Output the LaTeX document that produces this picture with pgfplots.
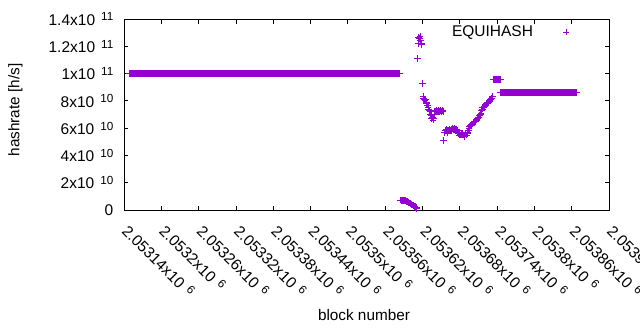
\documentclass[border=0pt]{standalone}
\usepackage{fontspec}
\setmainfont{Liberation Sans}
\usepackage{pgfplots}
\pgfplotsset{compat=1.18}
\definecolor{gpviolet}{RGB}{148,0,211}
\newcommand{\E}[2]{#1x10\hspace{6pt}\raisebox{4.3pt}{\fontsize{11.7}{12}\selectfont #2}}
\begin{document}
\fontsize{15}{18}\selectfont
\begin{tikzpicture}
\begin{axis}[
  scale only axis, width=485pt, height=191pt,
  xmin=2053140, xmax=2053920, ymin=0, ymax=1.4e11,
  axis line style={line width=0.8pt},
  tick style={black, line width=0.8pt}, major tick length=4.5pt, tick align=inside,
  xtick pos=both, ytick pos=both,
  scaled x ticks=false, scaled y ticks=false,
  xtick={2053140,2053200,2053260,2053320,2053380,2053440,2053500,2053560,2053620,2053680,2053740,2053800,2053860,2053920},
  xticklabels={\E{2.05314}{6},\E{2.0532}{6},\E{2.05326}{6},\E{2.05332}{6},\E{2.05338}{6},\E{2.05344}{6},\E{2.0535}{6},\E{2.05356}{6},\E{2.05362}{6},\E{2.05368}{6},\E{2.05374}{6},\E{2.0538}{6},\E{2.05386}{6},\E{2.05392}{6}},
  ytick={0,2e10,4e10,6e10,8e10,1e11,1.2e11,1.4e11},
  yticklabels={0,\E{2}{10},\E{4}{10},\E{6}{10},\E{8}{10},\E{1}{11},\E{1.2}{11},\E{1.4}{11}},
  tick label style={font=\fontsize{15.5}{18}\selectfont},
  xticklabel style={xshift=6pt, yshift=-6pt, rotate=-45, anchor=north west},
  yticklabel style={xshift=-5.5pt},
  xlabel={block number}, ylabel={hashrate [h/s]},
  xlabel style={at={(axis description cs:0.4948,-0.552)}, anchor=center, font=\fontsize{15.3}{18}\selectfont},
  ylabel style={at={(axis description cs:-0.2237,0.5236)}, anchor=center, font=\fontsize{15.3}{18}\selectfont},
  legend plot pos=right,
  legend style={draw=none, fill=none, at={(axis description cs:0.9258,0.9319)}, anchor=east, inner sep=0pt, outer sep=0pt, nodes={inner sep=0pt, outer sep=0pt}, column sep=0pt, font=\fontsize{15.5}{18}\selectfont},
  legend image code/.code={\path[draw=none, fill=none] (0pt,-3pt) rectangle (40pt,3pt); \draw[#1] plot coordinates {(33pt,0pt)};},
]
\addplot[only marks, mark=+, mark size=3.4pt, color=gpviolet, mark options={line width=0.9pt}] coordinates {
(2053148,1e11)(2053149,1e11)
(2053150,1e11)(2053151,1e11)(2053152,1e11)(2053153,1e11)(2053154,1e11)(2053155,1e11)(2053156,1e11)(2053157,1e11)(2053158,1e11)(2053159,1e11)
(2053160,1e11)(2053161,1e11)(2053162,1e11)(2053163,1e11)(2053164,1e11)(2053165,1e11)(2053166,1e11)(2053167,1e11)(2053168,1e11)(2053169,1e11)
(2053170,1e11)(2053171,1e11)(2053172,1e11)(2053173,1e11)(2053174,1e11)(2053175,1e11)(2053176,1e11)(2053177,1e11)(2053178,1e11)(2053179,1e11)
(2053180,1e11)(2053181,1e11)(2053182,1e11)(2053183,1e11)(2053184,1e11)(2053185,1e11)(2053186,1e11)(2053187,1e11)(2053188,1e11)(2053189,1e11)
(2053190,1e11)(2053191,1e11)(2053192,1e11)(2053193,1e11)(2053194,1e11)(2053195,1e11)(2053196,1e11)(2053197,1e11)(2053198,1e11)(2053199,1e11)
(2053200,1e11)(2053201,1e11)(2053202,1e11)(2053203,1e11)(2053204,1e11)(2053205,1e11)(2053206,1e11)(2053207,1e11)(2053208,1e11)(2053209,1e11)
(2053210,1e11)(2053211,1e11)(2053212,1e11)(2053213,1e11)(2053214,1e11)(2053215,1e11)(2053216,1e11)(2053217,1e11)(2053218,1e11)(2053219,1e11)
(2053220,1e11)(2053221,1e11)(2053222,1e11)(2053223,1e11)(2053224,1e11)(2053225,1e11)(2053226,1e11)(2053227,1e11)(2053228,1e11)(2053229,1e11)
(2053230,1e11)(2053231,1e11)(2053232,1e11)(2053233,1e11)(2053234,1e11)(2053235,1e11)(2053236,1e11)(2053237,1e11)(2053238,1e11)(2053239,1e11)
(2053240,1e11)(2053241,1e11)(2053242,1e11)(2053243,1e11)(2053244,1e11)(2053245,1e11)(2053246,1e11)(2053247,1e11)(2053248,1e11)(2053249,1e11)
(2053250,1e11)(2053251,1e11)(2053252,1e11)(2053253,1e11)(2053254,1e11)(2053255,1e11)(2053256,1e11)(2053257,1e11)(2053258,1e11)(2053259,1e11)
(2053260,1e11)(2053261,1e11)(2053262,1e11)(2053263,1e11)(2053264,1e11)(2053265,1e11)(2053266,1e11)(2053267,1e11)(2053268,1e11)(2053269,1e11)
(2053270,1e11)(2053271,1e11)(2053272,1e11)(2053273,1e11)(2053274,1e11)(2053275,1e11)(2053276,1e11)(2053277,1e11)(2053278,1e11)(2053279,1e11)
(2053280,1e11)(2053281,1e11)(2053282,1e11)(2053283,1e11)(2053284,1e11)(2053285,1e11)(2053286,1e11)(2053287,1e11)(2053288,1e11)(2053289,1e11)
(2053290,1e11)(2053291,1e11)(2053292,1e11)(2053293,1e11)(2053294,1e11)(2053295,1e11)(2053296,1e11)(2053297,1e11)(2053298,1e11)(2053299,1e11)
(2053300,1e11)(2053301,1e11)(2053302,1e11)(2053303,1e11)(2053304,1e11)(2053305,1e11)(2053306,1e11)(2053307,1e11)(2053308,1e11)(2053309,1e11)
(2053310,1e11)(2053311,1e11)(2053312,1e11)(2053313,1e11)(2053314,1e11)(2053315,1e11)(2053316,1e11)(2053317,1e11)(2053318,1e11)(2053319,1e11)
(2053320,1e11)(2053321,1e11)(2053322,1e11)(2053323,1e11)(2053324,1e11)(2053325,1e11)(2053326,1e11)(2053327,1e11)(2053328,1e11)(2053329,1e11)
(2053330,1e11)(2053331,1e11)(2053332,1e11)(2053333,1e11)(2053334,1e11)(2053335,1e11)(2053336,1e11)(2053337,1e11)(2053338,1e11)(2053339,1e11)
(2053340,1e11)(2053341,1e11)(2053342,1e11)(2053343,1e11)(2053344,1e11)(2053345,1e11)(2053346,1e11)(2053347,1e11)(2053348,1e11)(2053349,1e11)
(2053350,1e11)(2053351,1e11)(2053352,1e11)(2053353,1e11)(2053354,1e11)(2053355,1e11)(2053356,1e11)(2053357,1e11)(2053358,1e11)(2053359,1e11)
(2053360,1e11)(2053361,1e11)(2053362,1e11)(2053363,1e11)(2053364,1e11)(2053365,1e11)(2053366,1e11)(2053367,1e11)(2053368,1e11)(2053369,1e11)
(2053370,1e11)(2053371,1e11)(2053372,1e11)(2053373,1e11)(2053374,1e11)(2053375,1e11)(2053376,1e11)(2053377,1e11)(2053378,1e11)(2053379,1e11)
(2053380,1e11)(2053381,1e11)(2053382,1e11)(2053383,1e11)(2053384,1e11)(2053385,1e11)(2053386,1e11)(2053387,1e11)(2053388,1e11)(2053389,1e11)
(2053390,1e11)(2053391,1e11)(2053392,1e11)(2053393,1e11)(2053394,1e11)(2053395,1e11)(2053396,1e11)(2053397,1e11)(2053398,1e11)(2053399,1e11)
(2053400,1e11)(2053401,1e11)(2053402,1e11)(2053403,1e11)(2053404,1e11)(2053405,1e11)(2053406,1e11)(2053407,1e11)(2053408,1e11)(2053409,1e11)
(2053410,1e11)(2053411,1e11)(2053412,1e11)(2053413,1e11)(2053414,1e11)(2053415,1e11)(2053416,1e11)(2053417,1e11)(2053418,1e11)(2053419,1e11)
(2053420,1e11)(2053421,1e11)(2053422,1e11)(2053423,1e11)(2053424,1e11)(2053425,1e11)(2053426,1e11)(2053427,1e11)(2053428,1e11)(2053429,1e11)
(2053430,1e11)(2053431,1e11)(2053432,1e11)(2053433,1e11)(2053434,1e11)(2053435,1e11)(2053436,1e11)(2053437,1e11)(2053438,1e11)(2053439,1e11)
(2053440,1e11)(2053441,1e11)(2053442,1e11)(2053443,1e11)(2053444,1e11)(2053445,1e11)(2053446,1e11)(2053447,1e11)(2053448,1e11)(2053449,1e11)
(2053450,1e11)(2053451,1e11)(2053452,1e11)(2053453,1e11)(2053454,1e11)(2053455,1e11)(2053456,1e11)(2053457,1e11)(2053458,1e11)(2053459,1e11)
(2053460,1e11)(2053461,1e11)(2053462,1e11)(2053463,1e11)(2053464,1e11)(2053465,1e11)(2053466,1e11)(2053467,1e11)(2053468,1e11)(2053469,1e11)
(2053470,1e11)(2053471,1e11)(2053472,1e11)(2053473,1e11)(2053474,1e11)(2053475,1e11)(2053476,1e11)(2053477,1e11)(2053478,1e11)(2053479,1e11)
(2053480,1e11)(2053481,1e11)(2053482,1e11)(2053483,1e11)(2053484,1e11)(2053485,1e11)(2053486,1e11)(2053487,1e11)(2053488,1e11)(2053489,1e11)
(2053490,1e11)(2053491,1e11)(2053492,1e11)(2053493,1e11)(2053494,1e11)(2053495,1e11)(2053496,1e11)(2053497,1e11)(2053498,1e11)(2053499,1e11)
(2053500,1e11)(2053501,1e11)(2053502,1e11)(2053503,1e11)(2053504,1e11)(2053505,1e11)(2053506,1e11)(2053507,1e11)(2053508,1e11)(2053509,1e11)
(2053510,1e11)(2053511,1e11)(2053512,1e11)(2053513,1e11)(2053514,1e11)(2053515,1e11)(2053516,1e11)(2053517,1e11)(2053518,1e11)(2053519,1e11)
(2053520,1e11)(2053521,1e11)(2053522,1e11)(2053523,1e11)(2053524,1e11)(2053525,1e11)(2053526,1e11)(2053527,1e11)(2053528,1e11)(2053529,1e11)
(2053530,1e11)(2053531,1e11)(2053532,1e11)(2053533,1e11)(2053534,1e11)(2053535,1e11)(2053536,1e11)(2053537,1e11)(2053538,1e11)(2053539,1e11)
(2053540,1e11)(2053541,1e11)(2053542,1e11)(2053543,1e11)(2053544,1e11)(2053545,1e11)(2053546,1e11)(2053547,1e11)(2053548,1e11)(2053549,1e11)
(2053550,1e11)(2053551,1e11)(2053552,1e11)(2053553,1e11)(2053554,1e11)(2053555,1e11)(2053556,1e11)(2053557,1e11)(2053558,1e11)(2053559,1e11)
(2053560,1e11)(2053561,1e11)(2053562,1e11)(2053563,1e11)(2053564,1e11)(2053565,1e11)(2053566,1e11)(2053567,1e11)(2053568,1e11)(2053569,1e11)
(2053570,1e11)(2053571,1e11)(2053572,1e11)(2053573,1e11)(2053574,1e11)(2053575,1e11)(2053576,1e11)(2053577,1e11)(2053578,1e11)(2053579,1e11)
(2053580,1e11)(2053581,1e11)(2053582,1e11)(2053583,1e11)
(2053585,7.3e9)(2053586,7.2e9)(2053587,7.2e9)(2053588,7.1e9)(2053589,7.0e9)(2053590,7.1e9)(2053591,6.9e9)(2053592,6.8e9)(2053593,6.6e9)(2053594,6.5e9)
(2053595,6.3e9)(2053596,6.0e9)(2053597,5.8e9)(2053598,5.5e9)(2053599,5.2e9)(2053600,4.9e9)(2053601,4.6e9)(2053602,4.3e9)(2053603,4.0e9)(2053604,3.7e9)
(2053605,3.3e9)(2053606,3.0e9)(2053607,2.7e9)(2053608,2.4e9)(2053609,2.0e9)(2053610,1.6e9)(2053611,1.2e9)
(2053612,1.11e11)(2053613,1.222e11)(2053614,1.265e11)(2053615,1.26e11)(2053616,1.27e11)(2053617,1.24e11)(2053618,1.22e11)(2053619,1.215e11)(2053620,9.3e10)
(2053621,8.3e10)(2053622,8.2e10)(2053623,8.1e10)(2053624,8.0e10)(2053625,8.1e10)(2053626,7.9e10)(2053627,7.8e10)(2053628,7.7e10)(2053629,7.5e10)(2053630,7.4e10)
(2053631,7.3e10)(2053632,7.2e10)(2053633,7.0e10)(2053634,6.9e10)(2053635,6.7e10)(2053636,6.8e10)(2053637,6.6e10)(2053638,6.7e10)(2053639,7.0e10)(2053640,7.2e10)
(2053641,7.25e10)(2053642,7.2e10)(2053643,7.3e10)(2053644,7.25e10)(2053645,7.2e10)(2053646,7.3e10)(2053647,7.25e10)(2053648,7.2e10)(2053649,7.3e10)(2053650,7.25e10)
(2053651,7.2e10)(2053652,7.3e10)(2053653,7.2e10)(2053654,5.1e10)(2053655,5.7e10)(2053656,5.7e10)(2053657,5.8e10)(2053658,5.8e10)(2053659,5.9e10)(2053660,5.8e10)
(2053661,5.7e10)(2053662,5.8e10)(2053663,5.8e10)(2053664,5.9e10)(2053665,5.8e10)(2053666,5.8e10)(2053667,5.9e10)(2053668,6.0e10)(2053669,6.0e10)(2053670,5.9e10)
(2053671,6.0e10)(2053672,5.9e10)(2053673,5.9e10)(2053674,5.8e10)(2053675,5.9e10)(2053676,5.8e10)(2053677,5.7e10)(2053678,5.6e10)(2053679,5.5e10)(2053680,5.6e10)
(2053681,5.5e10)(2053682,5.6e10)(2053683,5.5e10)(2053684,5.5e10)(2053685,5.6e10)(2053686,5.5e10)(2053687,5.4e10)(2053688,5.5e10)(2053689,5.6e10)(2053690,5.5e10)
(2053691,5.5e10)(2053692,5.6e10)(2053693,5.7e10)(2053694,5.8e10)(2053695,6.0e10)(2053696,6.1e10)(2053697,6.2e10)(2053698,6.3e10)(2053699,6.2e10)(2053700,6.3e10)
(2053701,6.3e10)(2053702,6.4e10)(2053703,6.4e10)(2053704,6.5e10)(2053705,6.5e10)(2053706,6.6e10)(2053707,6.6e10)(2053708,6.7e10)(2053709,6.7e10)(2053710,6.8e10)
(2053711,6.8e10)(2053712,6.9e10)(2053713,7.0e10)(2053714,7.1e10)(2053715,7.3e10)(2053716,7.4e10)(2053717,7.5e10)(2053718,7.5e10)(2053719,7.6e10)(2053720,7.6e10)
(2053721,7.7e10)(2053722,7.7e10)(2053723,7.8e10)(2053724,7.8e10)(2053725,7.9e10)(2053726,7.9e10)(2053727,8.0e10)(2053728,8.0e10)(2053729,8.1e10)(2053730,8.1e10)
(2053731,8.2e10)(2053732,8.2e10)(2053733,8.3e10)
(2053734,9.58e10)(2053735,9.58e10)(2053736,9.58e10)(2053737,9.58e10)(2053738,9.58e10)(2053739,9.58e10)(2053740,9.58e10)(2053741,9.58e10)(2053742,9.58e10)(2053743,9.58e10)
(2053744,9.58e10)(2053745,9.58e10)
(2053746,8.61e10)(2053747,8.61e10)(2053748,8.61e10)(2053749,8.61e10)
(2053750,8.61e10)(2053751,8.61e10)(2053752,8.61e10)(2053753,8.61e10)(2053754,8.61e10)(2053755,8.61e10)(2053756,8.61e10)(2053757,8.61e10)(2053758,8.61e10)(2053759,8.61e10)
(2053760,8.61e10)(2053761,8.61e10)(2053762,8.61e10)(2053763,8.61e10)(2053764,8.61e10)(2053765,8.61e10)(2053766,8.61e10)(2053767,8.61e10)(2053768,8.61e10)(2053769,8.61e10)
(2053770,8.61e10)(2053771,8.61e10)(2053772,8.61e10)(2053773,8.61e10)(2053774,8.61e10)(2053775,8.61e10)(2053776,8.61e10)(2053777,8.61e10)(2053778,8.61e10)(2053779,8.61e10)
(2053780,8.61e10)(2053781,8.61e10)(2053782,8.61e10)(2053783,8.61e10)(2053784,8.61e10)(2053785,8.61e10)(2053786,8.61e10)(2053787,8.61e10)(2053788,8.61e10)(2053789,8.61e10)
(2053790,8.61e10)(2053791,8.61e10)(2053792,8.61e10)(2053793,8.61e10)(2053794,8.61e10)(2053795,8.61e10)(2053796,8.61e10)(2053797,8.61e10)(2053798,8.61e10)(2053799,8.61e10)
(2053800,8.61e10)(2053801,8.61e10)(2053802,8.61e10)(2053803,8.61e10)(2053804,8.61e10)(2053805,8.61e10)(2053806,8.61e10)(2053807,8.61e10)(2053808,8.61e10)(2053809,8.61e10)
(2053810,8.61e10)(2053811,8.61e10)(2053812,8.61e10)(2053813,8.61e10)(2053814,8.61e10)(2053815,8.61e10)(2053816,8.61e10)(2053817,8.61e10)(2053818,8.61e10)(2053819,8.61e10)
(2053820,8.61e10)(2053821,8.61e10)(2053822,8.61e10)(2053823,8.61e10)(2053824,8.61e10)(2053825,8.61e10)(2053826,8.61e10)(2053827,8.61e10)(2053828,8.61e10)(2053829,8.61e10)
(2053830,8.61e10)(2053831,8.61e10)(2053832,8.61e10)(2053833,8.61e10)(2053834,8.61e10)(2053835,8.61e10)(2053836,8.61e10)(2053837,8.61e10)(2053838,8.61e10)(2053839,8.61e10)
(2053840,8.61e10)(2053841,8.61e10)(2053842,8.61e10)(2053843,8.61e10)(2053844,8.61e10)(2053845,8.61e10)(2053846,8.61e10)(2053847,8.61e10)(2053848,8.61e10)(2053849,8.61e10)
(2053850,8.61e10)(2053851,8.61e10)(2053852,8.61e10)(2053853,8.61e10)(2053854,8.61e10)(2053855,8.61e10)(2053856,8.61e10)(2053857,8.61e10)(2053858,8.61e10)(2053859,8.61e10)
(2053860,8.61e10)(2053861,8.61e10)(2053862,8.61e10)(2053863,8.61e10)(2053864,8.61e10)(2053865,8.61e10)(2053866,8.61e10)(2053867,8.61e10)(2053868,8.61e10)
};
\addlegendentry{EQUIHASH}
\end{axis}
\pgfresetboundingbox
\path (current axis.south west) ++(-124pt,-120pt) rectangle ++(640pt,330pt);
\end{tikzpicture}
\end{document}
